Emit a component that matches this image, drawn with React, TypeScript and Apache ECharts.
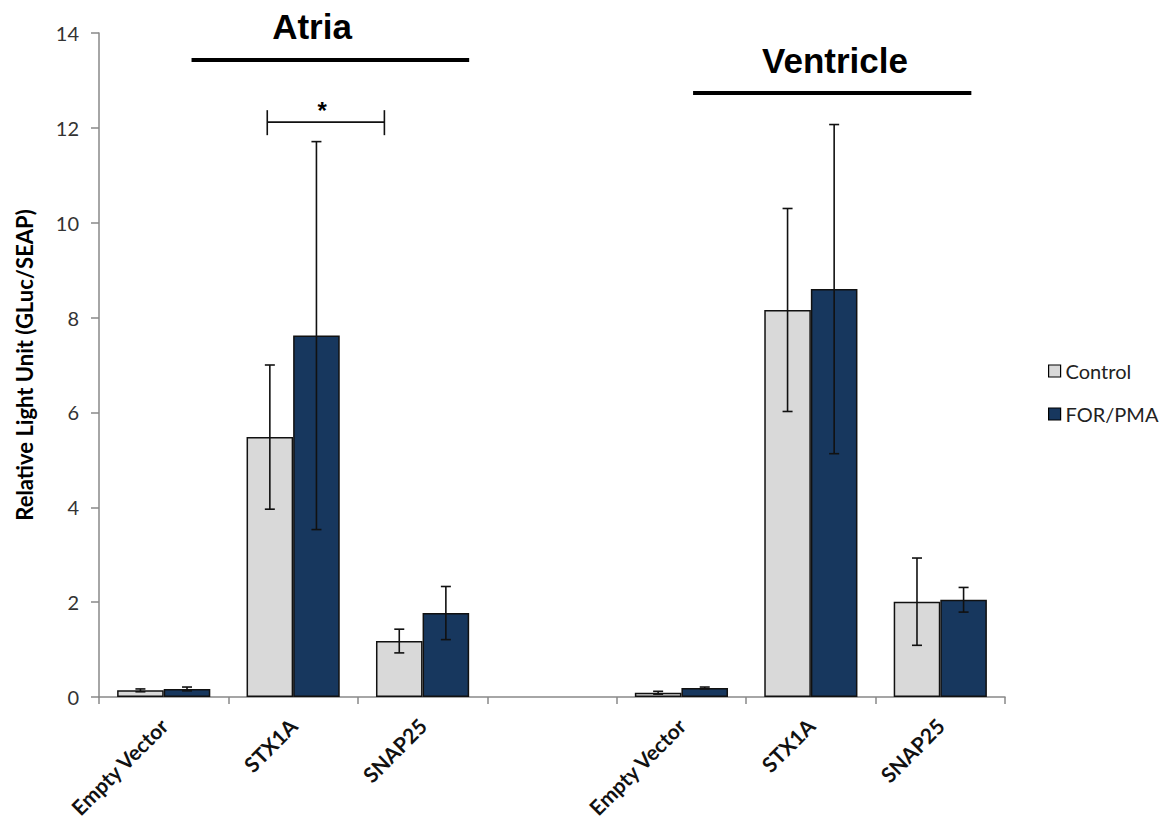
import React, { useEffect, useRef } from "react";
import * as echarts from "echarts";

const categories = ["Empty Vector", "STX1A", "SNAP25", "", "Empty Vector", "STX1A", "SNAP25"];
const seriesNames = ["Control", "FOR/PMA"];
const controlMean = [0.14, 5.48, 1.18, null, 0.09, 8.16, 2.01];
const controlErr = [0.03, 1.52, 0.25, null, 0.03, 2.14, 0.92];
const forMean = [0.17, 7.62, 1.77, null, 0.19, 8.6, 2.05];
const forErr = [0.04, 4.09, 0.56, null, 0.02, 3.47, 0.26];
const groupTitles = ["Atria", "Ventricle"];
const yTicks = [0, 2, 4, 6, 8, 10, 12, 14];

const GRID = { left: 99, top: 33, right: 157, bottom: 139 };
const CAT_GAP = 0.28;
const LABEL_FONT = "Lato, 'Open Sans', sans-serif";
const TITLE_FONT = "'Liberation Sans', Arial, sans-serif";

function errData(mean: (number | null)[], err: (number | null)[], side: number) {
  const out: any[] = [];
  mean.forEach((m, i) => {
    const e = err[i];
    if (m == null || e == null) return;
    out.push([i, m - e, m + e, side]);
  });
  return out;
}

export default function App() {
  const ref = useRef<HTMLDivElement>(null);
  useEffect(() => {
    document.body.style.margin = "0";
    if (!ref.current) return;
    const chart = echarts.init(ref.current, undefined, { renderer: "svg" });
    const renderErr = (params: any, api: any) => {
      const x = api.value(0);
      const lo = api.value(1);
      const hi = api.value(2);
      const side = api.value(3);
      const p0 = api.coord([x, lo]);
      const p1 = api.coord([x, hi]);
      const band = api.size([1, 0])[0];
      const cx = p0[0] + (side * band * (1 - CAT_GAP)) / 4;
      const cap = 5;
      const st = { stroke: "#111", lineWidth: 1.6 };
      return {
        type: "group",
        children: [
          { type: "line", shape: { x1: cx, y1: p0[1], x2: cx, y2: p1[1] }, style: st },
          { type: "line", shape: { x1: cx - cap, y1: p0[1], x2: cx + cap, y2: p0[1] }, style: st },
          { type: "line", shape: { x1: cx - cap, y1: p1[1], x2: cx + cap, y2: p1[1] }, style: st },
        ],
      };
    };

    const W = 1162;
    const H = 836;
    const plotW = W - GRID.left - GRID.right;
    const plotH = H - GRID.top - GRID.bottom;
    const band = plotW / categories.length;
    const yPx = (v: number) => GRID.top + plotH * (1 - v / 14);
    const xPx = (c: number) => GRID.left + band * c;

    const graphic: any[] = [
      // Atria group
      { type: "line", shape: { x1: xPx(0.715), y1: 60, x2: xPx(2.86), y2: 60 }, style: { stroke: "#000", lineWidth: 4 } },
      { type: "text", x: 312, y: 26, style: { text: groupTitles[0], font: `bold 35px ${TITLE_FONT}`, fill: "#000", textAlign: "center", textVerticalAlign: "middle" } },
      // Ventricle group
      { type: "line", shape: { x1: xPx(4.59), y1: 93, x2: xPx(6.74), y2: 93 }, style: { stroke: "#000", lineWidth: 4 } },
      { type: "text", x: 835, y: 60, style: { text: groupTitles[1], font: `bold 35px ${TITLE_FONT}`, fill: "#000", textAlign: "center", textVerticalAlign: "middle" } },
      // significance bracket
      { type: "line", shape: { x1: xPx(1.3), y1: yPx(12.12), x2: xPx(2.205), y2: yPx(12.12) }, style: { stroke: "#111", lineWidth: 1.6 } },
      { type: "line", shape: { x1: xPx(1.3), y1: yPx(12.12) - 12, x2: xPx(1.3), y2: yPx(12.12) + 13 }, style: { stroke: "#111", lineWidth: 1.6 } },
      { type: "line", shape: { x1: xPx(2.205), y1: yPx(12.12) - 12, x2: xPx(2.205), y2: yPx(12.12) + 13 }, style: { stroke: "#111", lineWidth: 1.6 } },
      { type: "text", x: xPx(1.725), y: yPx(12.12) - 12, style: { text: "*", font: `bold 24px ${TITLE_FONT}`, fill: "#000", textAlign: "center", textVerticalAlign: "middle" } },
    ];

    chart.setOption({
      animation: false,
      backgroundColor: "#fff",
      grid: { ...GRID, containLabel: false },
      legend: {
        data: seriesNames,
        orient: "vertical",
        left: 1043,
        top: 356,
        itemWidth: 12,
        itemHeight: 12,
        itemGap: 23,
        icon: "rect",
        selectedMode: false,
        textStyle: { fontFamily: LABEL_FONT, fontSize: 20, color: "#222" },
        itemStyle: { borderColor: "#000", borderWidth: 1.2 },
      },
      xAxis: {
        type: "category",
        data: categories,
        axisLine: { lineStyle: { color: "#888", width: 1.5 } },
        axisTick: { show: true, length: 7, lineStyle: { color: "#888", width: 1.5 } },
        axisLabel: {
          interval: 0,
          rotate: 45,
          margin: 25,
          fontFamily: LABEL_FONT,
          fontWeight: "bold",
          fontSize: 21,
          color: "#111",
        },
      },
      yAxis: {
        type: "value",
        min: 0,
        max: 14,
        interval: 2,
        name: "Relative Light Unit (GLuc/SEAP)",
        nameLocation: "middle",
        nameGap: 64,
        nameRotate: 90,
        nameTextStyle: { fontFamily: LABEL_FONT, fontWeight: "bold", fontSize: 22, color: "#000" },
        axisLine: { show: true, lineStyle: { color: "#888", width: 1.5 } },
        axisTick: { show: true, length: 8, lineStyle: { color: "#888", width: 1.5 } },
        splitLine: { show: false },
        axisLabel: {
          margin: 20,
          fontFamily: LABEL_FONT,
          fontSize: 20,
          color: "#333",
          formatter: (v: number) => (yTicks.includes(v) ? String(v) : ""),
        },
      },
      series: [
        {
          name: seriesNames[0],
          type: "bar",
          data: controlMean,
          barGap: "0%",
          barCategoryGap: `${CAT_GAP * 100}%`,
          itemStyle: { color: "#d9d9d9", borderColor: "#111", borderWidth: 1.5 },
        },
        {
          name: seriesNames[1],
          type: "bar",
          data: forMean,
          barGap: "0%",
          barCategoryGap: `${CAT_GAP * 100}%`,
          itemStyle: { color: "#17375e", borderColor: "#111", borderWidth: 1.5 },
        },
        {
          type: "custom",
          name: "errControl",
          renderItem: renderErr,
          data: errData(controlMean, controlErr, -1),
          encode: { x: 0, y: [1, 2] },
          z: 10,
        },
        {
          type: "custom",
          name: "errFor",
          renderItem: renderErr,
          data: errData(forMean, forErr, 1),
          encode: { x: 0, y: [1, 2] },
          z: 10,
        },
      ],
      graphic,
    });
    return () => chart.dispose();
  }, []);
  return <div ref={ref} style={{ width: 1162, height: 836 }} />;
}
